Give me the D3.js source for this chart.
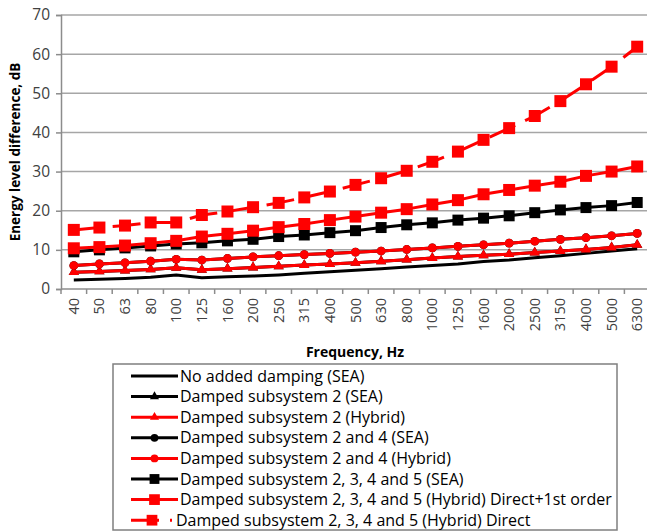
<!DOCTYPE html>
<html>
<head>
<meta charset="utf-8">
<script src="https://cdn.jsdelivr.net/npm/d3@7/dist/d3.min.js"></script>
<style>
  html, body { margin: 0; padding: 0; background: #fff; }
  svg { display: block; font-family: "Open Sans", sans-serif; }
</style>
</head>
<body>
<svg id="chart" width="647" height="532"></svg>
<script>
// Third-octave band centre frequencies (Hz)
const frequencies = ["40","50","63","80","100","125","160","200","250","315","400","500","630","800","1000","1250","1600","2000","2500","3150","4000","5000","6300"];

// Energy level difference, dB
const noDamping      = [2.3,2.5,2.7,3.0,3.6,2.9,3.1,3.3,3.6,4.0,4.4,4.8,5.2,5.6,6.0,6.4,7.0,7.4,8.0,8.5,9.1,9.7,10.3];
const sub2SEA        = [4.3,4.5,4.7,5.0,5.4,4.9,5.2,5.5,5.8,6.1,6.4,6.7,7.1,7.5,7.9,8.3,8.6,8.9,9.3,9.7,10.1,10.6,11.3];
const sub2Hybrid     = [4.3,4.5,4.7,5.0,5.4,4.9,5.2,5.5,5.8,6.1,6.4,6.7,7.1,7.5,7.9,8.3,8.6,8.9,9.3,9.7,10.1,10.6,11.3];
const sub24SEA       = [6.0,6.4,6.7,7.1,7.6,7.4,7.8,8.2,8.5,8.8,9.1,9.4,9.7,10.1,10.5,10.9,11.3,11.7,12.2,12.7,13.1,13.6,14.2];
const sub24Hybrid    = [6.0,6.4,6.7,7.1,7.6,7.4,7.8,8.2,8.5,8.8,9.1,9.4,9.7,10.1,10.5,10.9,11.3,11.7,12.2,12.7,13.1,13.6,14.2];
const sub2345SEA     = [9.5,10.0,10.5,11.0,11.5,11.8,12.3,12.7,13.4,13.8,14.4,14.9,15.7,16.4,16.9,17.6,18.1,18.7,19.5,20.2,20.8,21.3,22.1];
const sub2345First   = [10.4,10.7,11.1,11.7,12.3,13.4,14.1,14.9,15.8,16.6,17.6,18.5,19.5,20.4,21.6,22.7,24.2,25.3,26.4,27.4,28.9,30.0,31.3];
const sub2345Direct  = [15.1,15.7,16.2,17.0,17.0,18.9,19.8,20.9,22.0,23.4,24.9,26.6,28.3,30.2,32.5,35.1,38.1,41.1,44.2,48.0,52.3,56.8,61.9];

const yTicks = [0,10,20,30,40,50,60,70];

const seriesNames = [
  "No added damping (SEA)",
  "Damped subsystem 2 (SEA)",
  "Damped subsystem 2 (Hybrid)",
  "Damped subsystem 2 and 4 (SEA)",
  "Damped subsystem 2 and 4 (Hybrid)",
  "Damped subsystem 2, 3, 4 and 5 (SEA)",
  "Damped subsystem 2, 3, 4 and 5 (Hybrid) Direct+1st order",
  "Damped subsystem 2, 3, 4 and 5 (Hybrid) Direct"
];

const RED = "#ff0000", BLACK = "#000000";
const series = [
  { name: seriesNames[0], values: noDamping,     color: BLACK, symbol: null,               size: 0,   dash: null },
  { name: seriesNames[1], values: sub2SEA,       color: BLACK, symbol: d3.symbolTriangle,  size: 45,  dash: null },
  { name: seriesNames[2], values: sub2Hybrid,    color: RED,   symbol: d3.symbolTriangle,  size: 45,  dash: null },
  { name: seriesNames[3], values: sub24SEA,      color: BLACK, symbol: d3.symbolCircle,    size: 60,  dash: null },
  { name: seriesNames[4], values: sub24Hybrid,   color: RED,   symbol: d3.symbolCircle,    size: 60,  dash: null },
  { name: seriesNames[5], values: sub2345SEA,    color: BLACK, symbol: d3.symbolSquare,    size: 121, dash: null },
  { name: seriesNames[6], values: sub2345First,  color: RED,   symbol: d3.symbolSquare,    size: 144, dash: null },
  { name: seriesNames[7], values: sub2345Direct, color: RED,   symbol: d3.symbolSquare,    size: 144, dash: "28,11" }
];

const svg = d3.select("#chart");
const plot = { left: 61, right: 650, top: 15, bottom: 289 };

const x = d3.scaleBand().domain(frequencies).range([plot.left, plot.right]).paddingInner(0).paddingOuter(0);
const y = d3.scaleLinear().domain([0, 70]).range([plot.bottom, plot.top]);
const cx = f => x(f) + x.bandwidth() / 2;

// Horizontal gridlines
svg.append("g")
  .selectAll("line")
  .data(yTicks.filter(t => t > 0))
  .join("line")
  .attr("x1", plot.left).attr("x2", plot.right)
  .attr("y1", d => y(d)).attr("y2", d => y(d))
  .attr("stroke", "#a6a6a6").attr("stroke-width", 1.5);

// Y axis
const yAxis = svg.append("g")
  .attr("transform", `translate(${plot.left},0)`)
  .call(d3.axisLeft(y).tickValues(yTicks).tickSize(5).tickPadding(6));
yAxis.select(".domain").attr("stroke", "#8c8c8c").attr("stroke-width", 1.5);
yAxis.selectAll(".tick line").attr("stroke", "#8c8c8c").attr("stroke-width", 1.5);
yAxis.selectAll(".tick text").attr("font-size", 15.5).attr("fill", "#404040").attr("font-family", "'Open Sans', sans-serif");

// X axis: baseline, boundary ticks, rotated labels
const xAxis = svg.append("g")
  .attr("transform", `translate(0,${plot.bottom})`)
  .call(d3.axisBottom(x).tickSize(0).tickPadding(0));
xAxis.select(".domain").remove();
xAxis.append("line")
  .attr("x1", plot.left).attr("x2", plot.right)
  .attr("stroke", "#8c8c8c").attr("stroke-width", 1.5);
xAxis.selectAll(".boundary")
  .data(frequencies.map(f => x(f)).concat([plot.right]))
  .join("line")
  .attr("class", "boundary")
  .attr("x1", d => d).attr("x2", d => d)
  .attr("y1", 0).attr("y2", 5)
  .attr("stroke", "#8c8c8c").attr("stroke-width", 1.5);
xAxis.selectAll(".tick text")
  .attr("font-size", 14.5)
  .attr("fill", "#404040")
  .attr("font-family", "'Open Sans', sans-serif")
  .attr("text-anchor", "end")
  .attr("dy", "0.35em")
  .attr("transform", "translate(0,9) rotate(-90)");

// Axis titles
svg.append("text")
  .attr("x", 355).attr("y", 357)
  .attr("text-anchor", "middle")
  .attr("font-size", 14).attr("font-weight", "bold").attr("fill", "#000")
  .text("Frequency, Hz");

svg.append("text")
  .attr("transform", `translate(20,${(plot.top + plot.bottom) / 2}) rotate(-90)`)
  .attr("text-anchor", "middle")
  .attr("font-size", 13.5).attr("font-weight", "bold").attr("fill", "#000")
  .text("Energy level difference, dB");

// Series lines and markers
const line = d3.line().x((d, i) => cx(frequencies[i])).y(d => y(d));
series.forEach(s => {
  const g = svg.append("g");
  g.append("path")
    .datum(s.values)
    .attr("d", line)
    .attr("fill", "none")
    .attr("stroke", s.color)
    .attr("stroke-width", 3)
    .attr("stroke-linejoin", "round")
    .attr("stroke-dasharray", s.dash);
  if (s.symbol) {
    g.selectAll("path.mark")
      .data(s.values)
      .join("path")
      .attr("class", "mark")
      .attr("transform", (d, i) => `translate(${cx(frequencies[i])},${y(d)})`)
      .attr("d", d3.symbol().type(s.symbol).size(s.size))
      .attr("fill", s.color);
  }
});

// Legend
const legend = svg.append("g");
legend.append("rect")
  .attr("x", 113).attr("y", 364).attr("width", 504).attr("height", 166)
  .attr("fill", "#fff").attr("stroke", "#7f7f7f").attr("stroke-width", 1.5);

const rows = legend.selectAll("g.row")
  .data(series)
  .join("g")
  .attr("class", "row")
  .attr("transform", (d, i) => `translate(0,${376 + i * 20.6})`);

rows.append("line")
  .attr("x1", 131).attr("x2", d => d.dash ? 172 : 178)
  .attr("y1", 0).attr("y2", 0)
  .attr("stroke", d => d.color)
  .attr("stroke-width", 3)
  .attr("stroke-dasharray", d => d.dash);

rows.filter(d => d.symbol)
  .append("path")
  .attr("transform", d => `translate(${d.dash ? 152 : 154.5},0)`)
  .attr("d", d => d3.symbol().type(d.symbol).size(d.size * 0.8)())
  .attr("fill", d => d.color);

rows.append("text")
  .attr("x", d => d.dash ? 176 : 180)
  .attr("y", 0)
  .attr("dy", "0.35em")
  .attr("font-size", 16)
  .attr("fill", "#000")
  .attr("font-family", "'Open Sans', sans-serif")
  .text(d => d.name);
</script>
</body>
</html>
